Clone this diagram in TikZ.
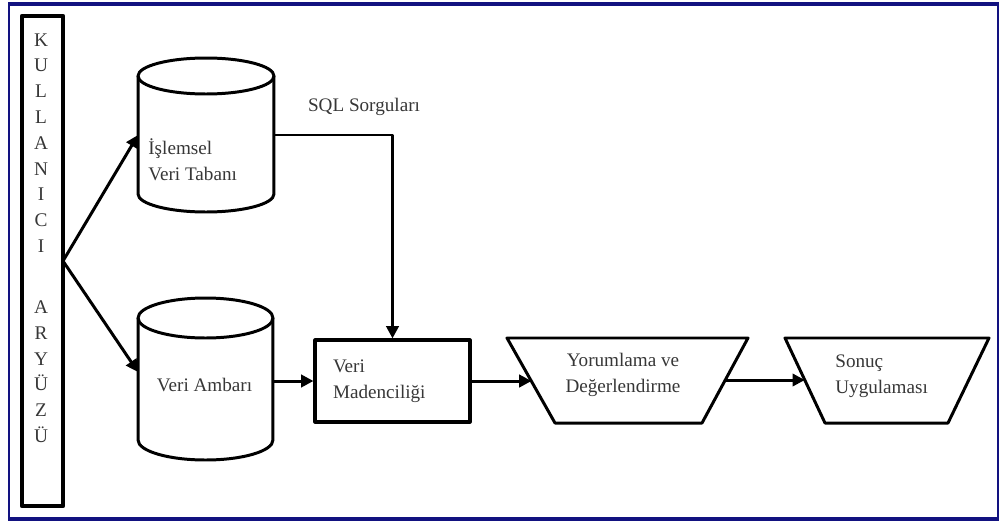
\documentclass[tikz,border=0pt]{standalone}
\usepackage{fontspec}
\setmainfont{Liberation Serif}
\usetikzlibrary{arrows.meta}
\definecolor{frameblue}{RGB}{18,18,128}
\definecolor{txt}{RGB}{55,55,55}
\begin{document}
\begin{tikzpicture}[x=0.02cm,y=0.02cm,
  line join=round,
  outline/.style={draw=black, line width=1.7pt},
  flow/.style={draw=black, line width=1.7pt, -{Triangle[length=7pt,width=7pt]}},
  lbl/.style={font=\fontsize{10.9}{14.8}\selectfont, text=txt, inner sep=0pt, align=left},
  hole/.style={inner sep=0pt, outer sep=0pt}]
\useasboundingbox (0,0) rectangle (1000,522);
% outer frame
\draw[frameblue, line width=1.2pt] (9,3) rectangle (998,518);
\draw[frameblue, line width=2.3pt] (8,518) -- (999,518);
\draw[frameblue, line width=2.0pt] (8,3) -- (999,3);

% user interface bar
\node[draw=black, line width=2.6pt, minimum width=0.82cm, minimum height=9.8cm, hole] (ui) at (42.5,261) {};
\node[font=\fontsize{11}{14.7}\selectfont, text=txt, inner sep=0pt, align=center, anchor=north] (uitext) at (41,489)
  {K\\U\\L\\L\\A\\N\\I\\C\\I\\[0.7cm]A\\R\\Y\\Ü\\Z\\Ü};

% operational database (cylinder)
\node[hole, minimum width=2.72cm, minimum height=3.08cm] (db1) at (206,387) {};
\draw[outline] (db1.north west |- 0,446) -- (db1.south west |- 0,328)
  arc[start angle=180, end angle=360, x radius=1.36cm, y radius=0.36cm] -- (db1.north east |- 0,446);
\draw[outline] (206,446) ellipse[x radius=1.36cm, y radius=0.36cm];
\node[lbl, anchor=west] (db1text) at (148,362) {İşlemsel\\Veri Tabanı};

% data warehouse (cylinder)
\node[hole, minimum width=2.7cm, minimum height=3.24cm] (db2) at (205.5,143) {};
\draw[outline] (db2.north west |- 0,204) -- (db2.south west |- 0,82)
  arc[start angle=180, end angle=360, x radius=1.35cm, y radius=0.4cm] -- (db2.north east |- 0,204);
\draw[outline] (205.5,204) ellipse[x radius=1.35cm, y radius=0.4cm];
\node[lbl] (db2text) at (204.5,137) {Veri Ambarı};

% data mining box
\node[draw=black, line width=1.8pt, minimum width=3.1cm, minimum height=1.64cm, text width=2.38cm,
      inner xsep=0.36cm, inner ysep=0pt, lbl, text=txt] (dm) at (392.5,141) {Veri\\Madenciliği};

% interpretation and evaluation (trapezoid)
\coordinate (t1a) at (507,184);
\coordinate (t1b) at (748,184);
\coordinate (t1c) at (702,99);
\coordinate (t1d) at (555,99);
\draw[outline] (t1a) -- (t1b) -- (t1c) -- (t1d) -- cycle;
\node[lbl, align=center] (t1) at (623,147) {Yorumlama ve\\Değerlendirme};
\coordinate (t1in) at (531.5,141);
\coordinate (t1out) at (725.3,142);

% application of results (trapezoid)
\coordinate (t2a) at (785,184);
\coordinate (t2b) at (989,184);
\coordinate (t2c) at (948,99);
\coordinate (t2d) at (825,99);
\draw[outline] (t2a) -- (t2b) -- (t2c) -- (t2d) -- cycle;
\node[lbl, anchor=west] (t2) at (835,146) {Sonuç\\Uygulaması};
\coordinate (t2in) at (804.8,142);

% SQL label
\node[lbl] (sql) at (364,415) {SQL Sorguları};

% connectors
\coordinate (fork) at (ui.east);
\draw[flow] (fork) -- (db1.west);
\draw[flow] (fork) -- ([yshift=0.14cm]db2.west);
\draw[flow] (db1.east) -| (dm.north);
\draw[flow] (dm.west -| db2.east) -- (dm.west);
\draw[flow] (dm.east) -- (t1in);
\draw[flow] (t1out) -- (t2in);
\end{tikzpicture}
\end{document}
